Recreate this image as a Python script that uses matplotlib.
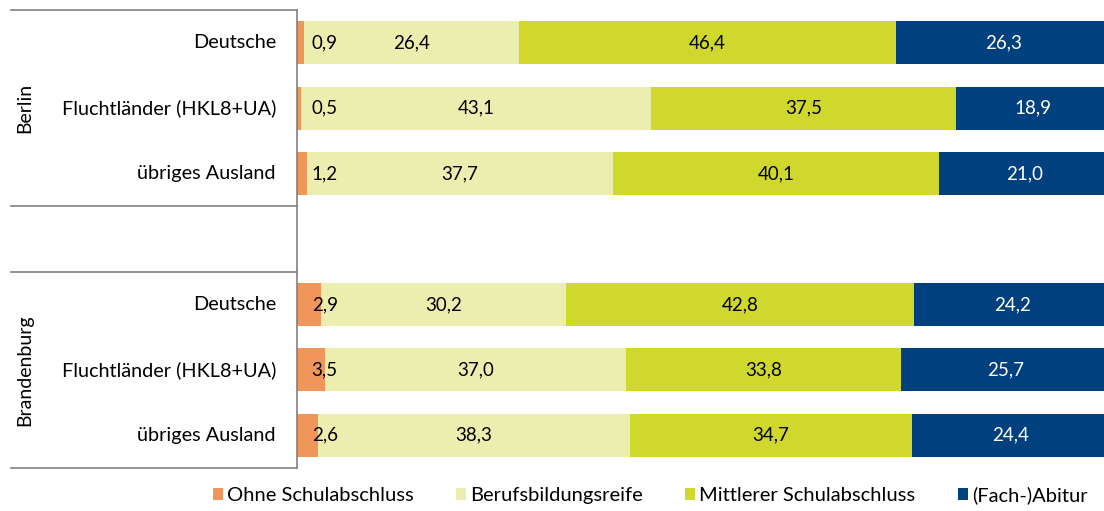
import matplotlib
matplotlib.use("Agg")
import matplotlib.pyplot as plt
from matplotlib.patches import Patch

plt.rcParams['font.family'] = ['Lato', 'DejaVu Sans']

rows = ["Deutsche", "Fluchtländer (HKL8+UA)", "übriges Ausland", "",
        "Deutsche", "Fluchtländer (HKL8+UA)", "übriges Ausland"]
groups = ["Berlin", "Brandenburg"]
series = ["Ohne Schulabschluss", "Berufsbildungsreife",
          "Mittlerer Schulabschluss", "(Fach-)Abitur"]
ohne = [0.9, 0.5, 1.2, None, 2.9, 3.5, 2.6]
beruf = [26.4, 43.1, 37.7, None, 30.2, 37.0, 38.3]
mittel = [46.4, 37.5, 40.1, None, 42.8, 33.8, 34.7]
abitur = [26.3, 18.9, 21.0, None, 24.2, 25.7, 24.4]
values = [ohne, beruf, mittel, abitur]
colors = ["#F0965A", "#EBEEAF", "#D0D82E", "#00407F"]
text_colors = ["black", "black", "black", "white"]

W, H = 1104, 511
fig = plt.figure(figsize=(W / 100, H / 100), dpi=100)
ax = fig.add_axes([297 / W, 1 - 468 / H, (1104 - 297) / W, (468 - 10) / H])

idx = [i for i, r in enumerate(rows) if r]
left = [0.0] * len(rows)
for s, (vals, col, tc) in enumerate(zip(values, colors, text_colors)):
    for i in idx:
        v = vals[i]
        ax.barh(i, v, left=left[i], height=0.66, color=col, edgecolor='none')
        lbl = f"{v:.1f}".replace(".", ",")
        if s == 0:
            ax.text(1.8, i, lbl, ha='left', va='center', fontsize=13.5, color=tc)
        else:
            ax.text(left[i] + v / 2, i, lbl, ha='center', va='center',
                    fontsize=13.5, color=tc)
        left[i] += v

ax.set_xlim(0, 100 * 807 / 813)
ax.set_ylim(6.5, -0.5)
ax.set_xticks([])
ax.set_yticks([])
for sp in ["top", "right", "bottom"]:
    ax.spines[sp].set_visible(False)
ax.spines["left"].set_color("#808080")
ax.spines["left"].set_linewidth(1.2)

# row labels
tr = ax.get_yaxis_transform()
for i in idx:
    ax.text(-21 / 807, i, rows[i], transform=tr, ha='right', va='center',
            fontsize=14.3)

# separator lines in the label area
x0 = (11 - 297) / 807
for y in [-0.5, 2.5, 3.5, 6.5]:
    ax.plot([x0, 0], [y, y], transform=tr, color="#808080", lw=1.2,
            clip_on=False)

# group labels
for g, yc in zip(groups, [1, 5]):
    ax.text(-272 / 807, yc, g, transform=tr, rotation=90, ha='center',
            va='center', fontsize=14)

handles = [Patch(facecolor=c, edgecolor='none') for c in colors]
fig.legend(handles, series, loc='lower center', bbox_to_anchor=(650 / W, -0.022),
           ncol=4, frameon=False, fontsize=14.5, handlelength=0.5,
           handleheight=0.6, handletextpad=0.2, columnspacing=2.1)

fig.savefig("out.png", dpi=100)
